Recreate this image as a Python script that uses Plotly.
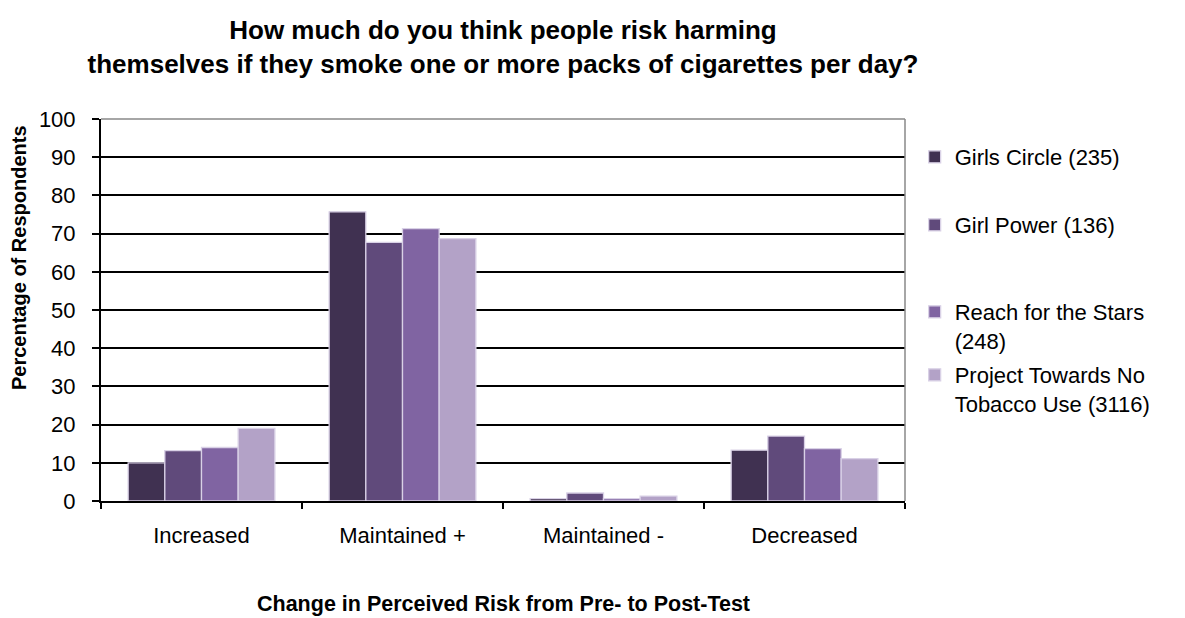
import plotly.graph_objects as go

categories = ["Increased", "Maintained +", "Maintained -", "Decreased"]
series_names = ["Girls Circle (235)", "Girl Power (136)",
                "Reach for the Stars<br>(248)", "Project Towards No<br>Tobacco Use (3116)"]
girls_circle = [10.0, 75.7, 0.6, 13.3]
girl_power = [13.2, 67.7, 2.1, 17.0]
reach_stars = [14.0, 71.3, 0.6, 13.7]
project_tnt = [19.0, 68.7, 1.3, 11.1]
values = [girls_circle, girl_power, reach_stars, project_tnt]
colors = ["#403151", "#604A7B", "#8064A2", "#B3A2C7"]
y_ticks = list(range(0, 101, 10))

FONT = "Liberation Sans, Arial, sans-serif"

L, R, T, B = 101, 905, 119, 501
W, H = 1185, 618

fig = go.Figure()
legend_names = ["legend", "legend2", "legend3", "legend4"]
for i, (name, vals, col) in enumerate(zip(series_names, values, colors)):
    fig.add_trace(go.Bar(
        x=categories, y=vals, name=name,
        marker=dict(color=col, line=dict(color="#D9D1E6", width=1.3)),
        legend=legend_names[i],
    ))

def py(ypix):
    return (B - ypix) / (B - T)

leg_tops = [136, 204, 291, 354]
legend_common = dict(x=1.012, xanchor="left", yanchor="top", valign="top",
                     bgcolor="rgba(0,0,0,0)", font=dict(family=FONT, size=22, color="#000"),
                     itemwidth=30, itemclick=False, tracegroupgap=0)
layout_legends = {}
for i, ln in enumerate(legend_names):
    layout_legends[ln] = dict(legend_common, y=py(leg_tops[i]))

fig.update_layout(
    width=W, height=H,
    margin=dict(l=L, r=W - R, t=T, b=H - B, pad=0),
    paper_bgcolor="white", plot_bgcolor="white",
    barmode="group", bargap=0.27, bargroupgap=0,
    showlegend=True,
    font=dict(family=FONT, color="#000"),
    title=dict(
        text="How much do you think people risk harming<br>themselves if they smoke one or more packs of cigarettes per day?",
        x=(L + R) / 2 / W, xanchor="center", y=1 - 39 / H, yanchor="middle",
        font=dict(family=FONT, size=26, weight="bold", color="#000"),
    ),
    xaxis=dict(
        type="category", tickson="boundaries", ticks="outside", ticklen=6,
        tickcolor="#000", tickwidth=1.5, showline=True, linecolor="#000", linewidth=2,
        showgrid=False, tickfont=dict(family=FONT, size=22, color="#000"),
        ticklabelstandoff=14,
    ),
    yaxis=dict(
        range=[0, 100], tickvals=y_ticks, ticks="outside", ticklen=7,
        tickcolor="#000", tickwidth=1.5, showline=True, linecolor="#000", linewidth=2,
        showgrid=True, gridcolor="#000", gridwidth=1.5, zeroline=False,
        tickfont=dict(family=FONT, size=22, color="#000"), ticklabelstandoff=12,
    ),
    shapes=[
        dict(type="line", xref="paper", yref="paper", x0=0, x1=1, y0=1, y1=1,
             line=dict(color="#888888", width=1.5), layer="above"),
        dict(type="line", xref="paper", yref="paper", x0=1, x1=1, y0=0, y1=1,
             line=dict(color="#888888", width=1.5), layer="above"),
    ],
    annotations=[
        dict(text="<b>Percentage of Respondents</b>", xref="paper", yref="paper",
             x=(19 - L) / (R - L), y=py(258), textangle=-90, showarrow=False,
             xanchor="center", yanchor="middle",
             font=dict(family=FONT, size=20, color="#000")),
        dict(text="<b>Change in Perceived Risk from Pre- to Post-Test</b>", xref="paper", yref="paper",
             x=0.5, y=py(604), showarrow=False, xanchor="center", yanchor="middle",
             font=dict(family=FONT, size=21.5, color="#000")),
    ],
    **layout_legends,
)

fig.write_html("out.html")
